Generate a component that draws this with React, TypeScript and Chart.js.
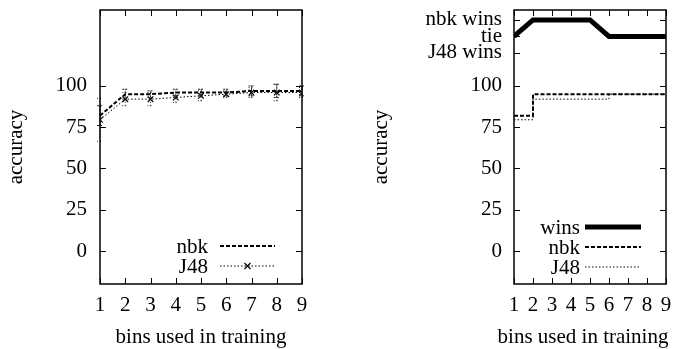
import React, { useEffect, useRef } from 'react';
import { Chart, registerables } from 'chart.js';

Chart.register(...registerables);

// ---------- data ----------
const bins = [1, 2, 3, 4, 5, 6, 7, 8, 9];
const nbkAccuracy = [82, 95, 95, 96, 96, 96, 97, 97, 97];
const j48Accuracy = [79.5, 92, 92, 93, 94, 95, 96, 96, 96];
const nbkError = [6, 3, 2, 2, 2, 2, 3, 4, 3];
const j48Error = [13, 4, 4, 3, 3, 2, 3, 5, 3];
const nbkSummary = [82, 95, 95, 95, 95, 95, 95, 95, 95];
const j48Summary = [79.5, 92, 92, 92, 92, 95, 95, 95, 95];
const winsOutcome = [130, 140, 140, 140, 140, 130, 130, 130, 130];
const accuracyTicks = [0, 25, 50, 75, 100];
const outcomeTicks = [120, 130, 140];
const outcomeLabels = ['J48 wins', 'tie', 'nbk wins'];
const xTitle = 'bins used in training';
const yTitle = 'accuracy';

const FONT = { family: "'Liberation Serif', 'Times New Roman', serif", size: 21 };
const FONT_CSS = "21px 'Liberation Serif', 'Times New Roman', serif";

const pts = (ys: number[]) => bins.map((b, i) => ({ x: b, y: ys[i] }));

// ---------- gnuplot-like frame / error bars / key ----------
const gframe = {
  id: 'gframe',
  afterDatasetsDraw(chart: any, _args: any, opts: any) {
    const { ctx, scales } = chart;
    const x = scales.x, y = scales.y;
    ctx.save();
    (opts.errorBars || []).forEach((eb: any) => {
      ctx.strokeStyle = '#222';
      ctx.lineWidth = 1;
      ctx.setLineDash(eb.dash || []);
      eb.values.forEach((v: number, i: number) => {
        const px = x.getPixelForValue(bins[i]);
        const lo = y.getPixelForValue(v - eb.err[i]);
        const hi = y.getPixelForValue(v + eb.err[i]);
        ctx.beginPath();
        ctx.moveTo(px, lo);
        ctx.lineTo(px, hi);
        ctx.moveTo(px - 3, lo);
        ctx.lineTo(px + 3, lo);
        ctx.moveTo(px - 3, hi);
        ctx.lineTo(px + 3, hi);
        ctx.stroke();
      });
    });
    ctx.restore();
  },
  afterDraw(chart: any, _args: any, opts: any) {
    const { ctx, chartArea: a, scales } = chart;
    const x = scales.x, y = scales.y;
    ctx.save();
    ctx.strokeStyle = '#000';
    ctx.setLineDash([]);
    ctx.lineWidth = 1;
    const tl = 6;
    ctx.beginPath();
    x.ticks.forEach((t: any) => {
      const px = Math.round(x.getPixelForValue(t.value)) + 0.5;
      ctx.moveTo(px, a.bottom);
      ctx.lineTo(px, a.bottom - tl);
      ctx.moveTo(px, a.top);
      ctx.lineTo(px, a.top + tl);
    });
    y.ticks.forEach((t: any) => {
      const py = Math.round(y.getPixelForValue(t.value)) + 0.5;
      ctx.moveTo(a.left, py);
      ctx.lineTo(a.left + tl, py);
      ctx.moveTo(a.right, py);
      ctx.lineTo(a.right - tl, py);
    });
    ctx.stroke();
    ctx.lineWidth = 1.5;
    ctx.strokeRect(a.left, a.top, a.right - a.left, a.bottom - a.top);

    // x-axis title (drawn without width squeezing)
    if (opts.xTitle) {
      ctx.font = FONT_CSS;
      ctx.fillStyle = '#000';
      ctx.textAlign = 'center';
      ctx.textBaseline = 'middle';
      ctx.fillText(opts.xTitle.text, (a.left + a.right) / 2 + opts.xTitle.dx, chart.height - 12);
    }

    const lg = opts.legend;
    if (lg) {
      const n = lg.rows.length;
      lg.rows.forEach((row: any, k: number) => {
        const ds = chart.data.datasets[row.datasetIndex];
        const yy = a.bottom - lg.bottom - (n - 1 - k) * lg.spacing;
        const x2 = a.right - lg.right;
        const x1 = x2 - lg.width;
        ctx.font = FONT_CSS;
        ctx.fillStyle = '#000';
        ctx.textAlign = 'right';
        ctx.textBaseline = 'middle';
        ctx.fillText(ds.label, x1 - lg.gap, yy + 1);
        ctx.strokeStyle = ds.borderColor;
        ctx.lineWidth = ds.borderWidth;
        ctx.setLineDash(ds.borderDash || []);
        ctx.beginPath();
        ctx.moveTo(x1, yy);
        ctx.lineTo(x2, yy);
        ctx.stroke();
        if (ds.pointRadius > 0) {
          const cx = (x1 + x2) / 2, r = ds.pointRadius * 0.75;
          ctx.setLineDash([]);
          ctx.lineWidth = 1.2;
          ctx.beginPath();
          ctx.moveTo(cx - r, yy - r);
          ctx.lineTo(cx + r, yy + r);
          ctx.moveTo(cx - r, yy + r);
          ctx.lineTo(cx + r, yy - r);
          ctx.stroke();
        }
      });
    }
    ctx.restore();
  },
};

const zeroPad = (s: any) => {
  s.paddingTop = 0;
  s.paddingBottom = 0;
  s.paddingLeft = 0;
  s.paddingRight = 0;
};

function makeScales(opt: {
  yWidth: number;
  yTickPad: number;
  yTitlePad: number;
  tickValues: number[];
  tickLabel: (v: number) => string;
}) {
  return {
    x: {
      type: 'linear',
      min: 1,
      max: 9,
      ticks: { stepSize: 1, font: FONT, color: '#000', padding: 9, maxRotation: 0, autoSkip: false },
      grid: { display: false, drawTicks: false },
      border: { display: false },
      title: { display: false },
      afterFit: (s: any) => {
        s.height = 65;
        zeroPad(s);
      },
    },
    y: {
      type: 'linear',
      min: -20,
      max: 146,
      afterBuildTicks: (s: any) => {
        s.ticks = opt.tickValues.map((v) => ({ value: v }));
      },
      ticks: {
        font: FONT,
        color: '#000',
        padding: opt.yTickPad,
        autoSkip: false,
        callback: (v: any) => opt.tickLabel(Number(v)),
      },
      grid: { display: false, drawTicks: false },
      border: { display: false },
      title: { display: true, text: yTitle, font: FONT, color: '#000', padding: { top: opt.yTitlePad, bottom: 0 } },
      afterFit: (s: any) => {
        s.width = opt.yWidth;
        zeroPad(s);
      },
    },
  };
}

function leftConfig(): any {
  return {
    type: 'line',
    data: {
      datasets: [
        {
          label: 'nbk',
          data: pts(nbkAccuracy),
          borderColor: '#000',
          borderWidth: 2,
          borderDash: [4, 2],
          pointRadius: 0,
          fill: false,
          tension: 0,
        },
        {
          label: 'J48',
          data: pts(j48Accuracy),
          borderColor: '#000',
          borderWidth: 1,
          borderDash: [1.5, 2],
          pointStyle: 'crossRot',
          pointRadius: 4,
          pointBorderWidth: 1.2,
          pointBorderColor: '#000',
          pointBackgroundColor: '#000',
          fill: false,
          tension: 0,
        },
      ],
    },
    options: {
      responsive: false,
      animation: false,
      events: [],
      layout: { padding: { top: 10, right: 38, left: 0, bottom: 0 } },
      scales: makeScales({
        yWidth: 100,
        yTickPad: 13,
        yTitlePad: 4,
        tickValues: accuracyTicks,
        tickLabel: (v) => String(v),
      }),
      plugins: {
        legend: { display: false },
        tooltip: { enabled: false },
        gframe: {
          xTitle: { text: xTitle, dx: 0 },
          errorBars: [
            { values: nbkAccuracy, err: nbkError, dash: [2, 1] },
            { values: j48Accuracy, err: j48Error, dash: [1, 2] },
          ],
          legend: {
            rows: [{ datasetIndex: 0 }, { datasetIndex: 1 }],
            right: 27,
            width: 55,
            gap: 12,
            bottom: 18,
            spacing: 20,
          },
        },
      },
    },
    plugins: [gframe],
  };
}

function rightConfig(): any {
  return {
    type: 'line',
    data: {
      datasets: [
        {
          label: 'wins',
          data: pts(winsOutcome),
          borderColor: '#000',
          borderWidth: 5,
          borderJoinStyle: 'miter',
          pointRadius: 0,
          fill: false,
          tension: 0,
          clip: 0,
        },
        {
          label: 'nbk',
          data: pts(nbkSummary),
          borderColor: '#000',
          borderWidth: 2,
          borderDash: [4, 2],
          stepped: 'before',
          pointRadius: 0,
          fill: false,
        },
        {
          label: 'J48',
          data: pts(j48Summary),
          borderColor: '#000',
          borderWidth: 1,
          borderDash: [1.5, 2],
          stepped: 'before',
          pointRadius: 0,
          fill: false,
        },
      ],
    },
    options: {
      responsive: false,
      animation: false,
      events: [],
      layout: { padding: { top: 10, right: 13, left: 0, bottom: 0 } },
      scales: makeScales({
        yWidth: 174,
        yTickPad: 12,
        yTitlePad: 29,
        tickValues: [...accuracyTicks, ...outcomeTicks],
        tickLabel: (v) => {
          const k = outcomeTicks.indexOf(v);
          return k >= 0 ? outcomeLabels[k] : String(v);
        },
      }),
      plugins: {
        legend: { display: false },
        tooltip: { enabled: false },
        gframe: {
          xTitle: { text: xTitle, dx: -7 },
          legend: {
            rows: [{ datasetIndex: 0 }, { datasetIndex: 1 }, { datasetIndex: 2 }],
            right: 25,
            width: 56,
            gap: 5,
            bottom: 17,
            spacing: 20,
          },
        },
      },
    },
    plugins: [gframe],
  };
}

function ChartCanvas({ config, width, height, left }: { config: () => any; width: number; height: number; left: number }) {
  const ref = useRef<HTMLCanvasElement | null>(null);
  useEffect(() => {
    if (!ref.current) return;
    const chart = new Chart(ref.current, config());
    return () => chart.destroy();
  }, []);
  return (
    <canvas
      ref={ref}
      width={width}
      height={height}
      style={{ position: 'absolute', left, top: 0, width, height, display: 'block' }}
    />
  );
}

export default function App() {
  return (
    <div style={{ position: 'fixed', left: 0, top: 0, width: 679, height: 349, background: '#fff' }}>
      <ChartCanvas config={leftConfig} width={340} height={349} left={0} />
      <ChartCanvas config={rightConfig} width={339} height={349} left={340} />
    </div>
  );
}
